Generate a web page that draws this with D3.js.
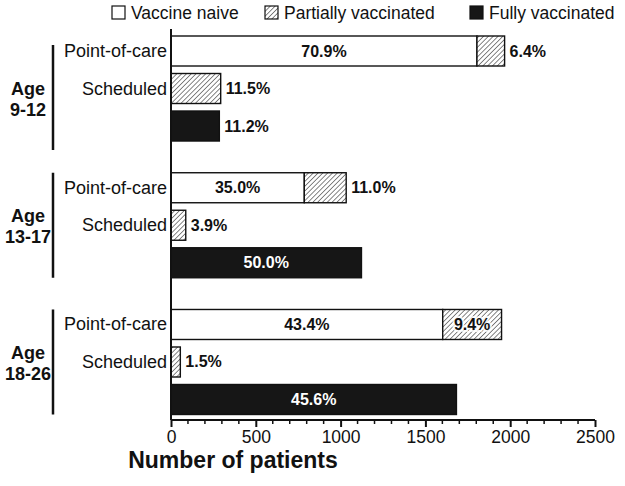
<!DOCTYPE html>
<html>
  <head>
    <meta charset="UTF-8" />
    <title>Vaccination status by age</title>
    <style>
      body { margin: 0; background: #fff; }
      text { font-family: "Liberation Sans", Arial, sans-serif; fill: #111; }
    </style>
    <script src="https://d3js.org/d3.v7.min.js"></script>
  </head>
  <body>
    <svg id="viz" width="625" height="486"></svg>
    <script>
      // age groups and the three rows inside each one
      var groupLabels = [["Age", "9-12"], ["Age", "13-17"], ["Age", "18-26"]];
      var rowLabels = ["Point-of-care", "Scheduled", ""];
      var legendLabels = ["Vaccine naive", "Partially vaccinated", "Fully vaccinated"];

      // number of patients
      var naivePoc = [1804, 786, 1602];
      var partialPoc = [163, 247, 347];
      var partialSched = [293, 87, 55];
      var fully = [285, 1123, 1683];

      // percentage labels
      var naivePocPct = ["70.9%", "35.0%", "43.4%"];
      var partialPocPct = ["6.4%", "11.0%", "9.4%"];
      var partialSchedPct = ["11.5%", "3.9%", "1.5%"];
      var fullyPct = ["11.2%", "50.0%", "45.6%"];

      var xTicks = [0, 500, 1000, 1500, 2000, 2500];

      var svg = d3.select("#viz");

      // hatch pattern
      var defs = svg.append("defs");
      var pat = defs.append("pattern")
        .attr("id", "hatch")
        .attr("patternUnits", "userSpaceOnUse")
        .attr("width", 3.4).attr("height", 3.4)
        .attr("patternTransform", "rotate(45)");
      pat.append("rect").attr("width", 3.4).attr("height", 3.4).attr("fill", "#fff");
      pat.append("line").attr("x1", 0).attr("y1", 0).attr("x2", 0).attr("y2", 3.4)
        .attr("stroke", "#222").attr("stroke-width", 1.1);

      var fills = ["#fff", "url(#hatch)", "#161616"];

      var x = d3.scaleLinear().domain([0, 2500]).range([171, 595]);
      var yGroup = d3.scaleBand().domain([0, 1, 2]).range([36, 414.5]).paddingInner(0.232).paddingOuter(0);
      var yRow = d3.scaleBand().domain([0, 1, 2]).range([0, yGroup.bandwidth()]).paddingInner(0.2).paddingOuter(0);

      // build segments: group, row, start, value, type, label
      var segs = [];
      groupLabels.forEach(function (g, i) {
        segs.push({ g: i, r: 0, x0: 0, v: naivePoc[i], t: 0, lab: naivePocPct[i] });
        segs.push({ g: i, r: 0, x0: naivePoc[i], v: partialPoc[i], t: 1, lab: partialPocPct[i] });
        segs.push({ g: i, r: 1, x0: 0, v: partialSched[i], t: 1, lab: partialSchedPct[i] });
        segs.push({ g: i, r: 2, x0: 0, v: fully[i], t: 2, lab: fullyPct[i] });
      });

      var rowY = function (d) { return yGroup(d.g) + yRow(d.r); };

      svg.append("g").selectAll("rect").data(segs).join("rect")
        .attr("x", function (d) { return x(d.x0); })
        .attr("y", rowY)
        .attr("width", function (d) { return x(d.x0 + d.v) - x(d.x0); })
        .attr("height", yRow.bandwidth())
        .attr("fill", function (d) { return fills[d.t]; })
        .attr("stroke", "#111").attr("stroke-width", 1.4);

      // value labels: inside if the segment is wide enough, else just after the bar end
      svg.append("g").selectAll("text").data(segs).join("text")
        .each(function (d) {
          var w = x(d.x0 + d.v) - x(d.x0);
          var inside = w > 52;
          var t = d3.select(this)
            .attr("y", rowY(d) + yRow.bandwidth() / 2 + 5.5)
            .attr("font-size", 16).attr("font-weight", "bold")
            .text(d.lab);
          if (inside) {
            t.attr("x", (x(d.x0) + x(d.x0 + d.v)) / 2).attr("text-anchor", "middle")
              .style("fill", d.t === 2 ? "#fff" : "#111");
            if (d.t === 1) {
              t.attr("stroke", "#fff").attr("stroke-width", 4).attr("stroke-opacity", 0.8)
                .attr("paint-order", "stroke");
            }
          } else {
            t.attr("x", x(d.x0 + d.v) + 5).attr("text-anchor", "start");
          }
        });

      // row labels
      groupLabels.forEach(function (g, i) {
        svg.append("g").selectAll("text").data(rowLabels).join("text")
          .attr("x", 167)
          .attr("y", function (d, r) { return yGroup(i) + yRow(r) + yRow.bandwidth() / 2 + 6; })
          .attr("text-anchor", "end")
          .attr("font-size", 18)
          .text(function (d) { return d; });

        // bracket + age label (first bracket sits a little lower in the original)
        var shift = i === 0 ? 9 : 0;
        var top = yGroup(i) + shift, bot = yGroup(i) + yGroup.bandwidth() + shift;
        var c = (top + bot) / 2;
        svg.append("line").attr("x1", 53).attr("x2", 53).attr("y1", top).attr("y2", bot)
          .attr("stroke", "#111").attr("stroke-width", 2.5);
        svg.append("text").attr("x", 28).attr("y", c - 3).attr("text-anchor", "middle")
          .attr("font-size", 18).attr("font-weight", "bold").text(g[0]);
        svg.append("text").attr("x", 28).attr("y", c + 18).attr("text-anchor", "middle")
          .attr("font-size", 18).attr("font-weight", "bold").text(g[1]);
      });

      // y axis line
      svg.append("line").attr("x1", 171).attr("x2", 171).attr("y1", 29).attr("y2", 420)
        .attr("stroke", "#111").attr("stroke-width", 2);

      // x axis
      var xAxis = d3.axisBottom(x).tickValues(xTicks).tickSize(7).tickPadding(4).tickFormat(d3.format("d"));
      var ax = svg.append("g").attr("transform", "translate(0,420)").call(xAxis);
      ax.select(".domain").attr("stroke", "#111").attr("stroke-width", 2).attr("d", "M171,0H595");
      ax.selectAll(".tick line").attr("stroke", "#111").attr("stroke-width", 2);
      ax.selectAll(".tick text").attr("font-size", 17.5).attr("font-family", "Liberation Sans, Arial, sans-serif").style("fill", "#111");
      var minor = d3.range(0, 2501, 100).filter(function (v) { return v % 500 !== 0; });
      ax.append("g").selectAll("line").data(minor).join("line")
        .attr("x1", x).attr("x2", x).attr("y1", 0).attr("y2", 4)
        .attr("stroke", "#111").attr("stroke-width", 1.5);

      svg.append("text").attr("x", 233).attr("y", 468).attr("text-anchor", "middle")
        .attr("font-size", 23).attr("font-weight", "bold").text("Number of patients");

      // legend
      var legX = [112, 265, 470];
      var leg = svg.append("g").selectAll("g").data(legendLabels).join("g")
        .attr("transform", function (d, i) { return "translate(" + legX[i] + ",6)"; });
      leg.append("rect").attr("width", 13).attr("height", 13)
        .attr("fill", function (d, i) { return fills[i]; })
        .attr("stroke", "#111").attr("stroke-width", 1.2);
      leg.append("text").attr("x", 19).attr("y", 12.5).attr("font-size", 17.5)
        .text(function (d) { return d; });
    </script>
  </body>
</html>
